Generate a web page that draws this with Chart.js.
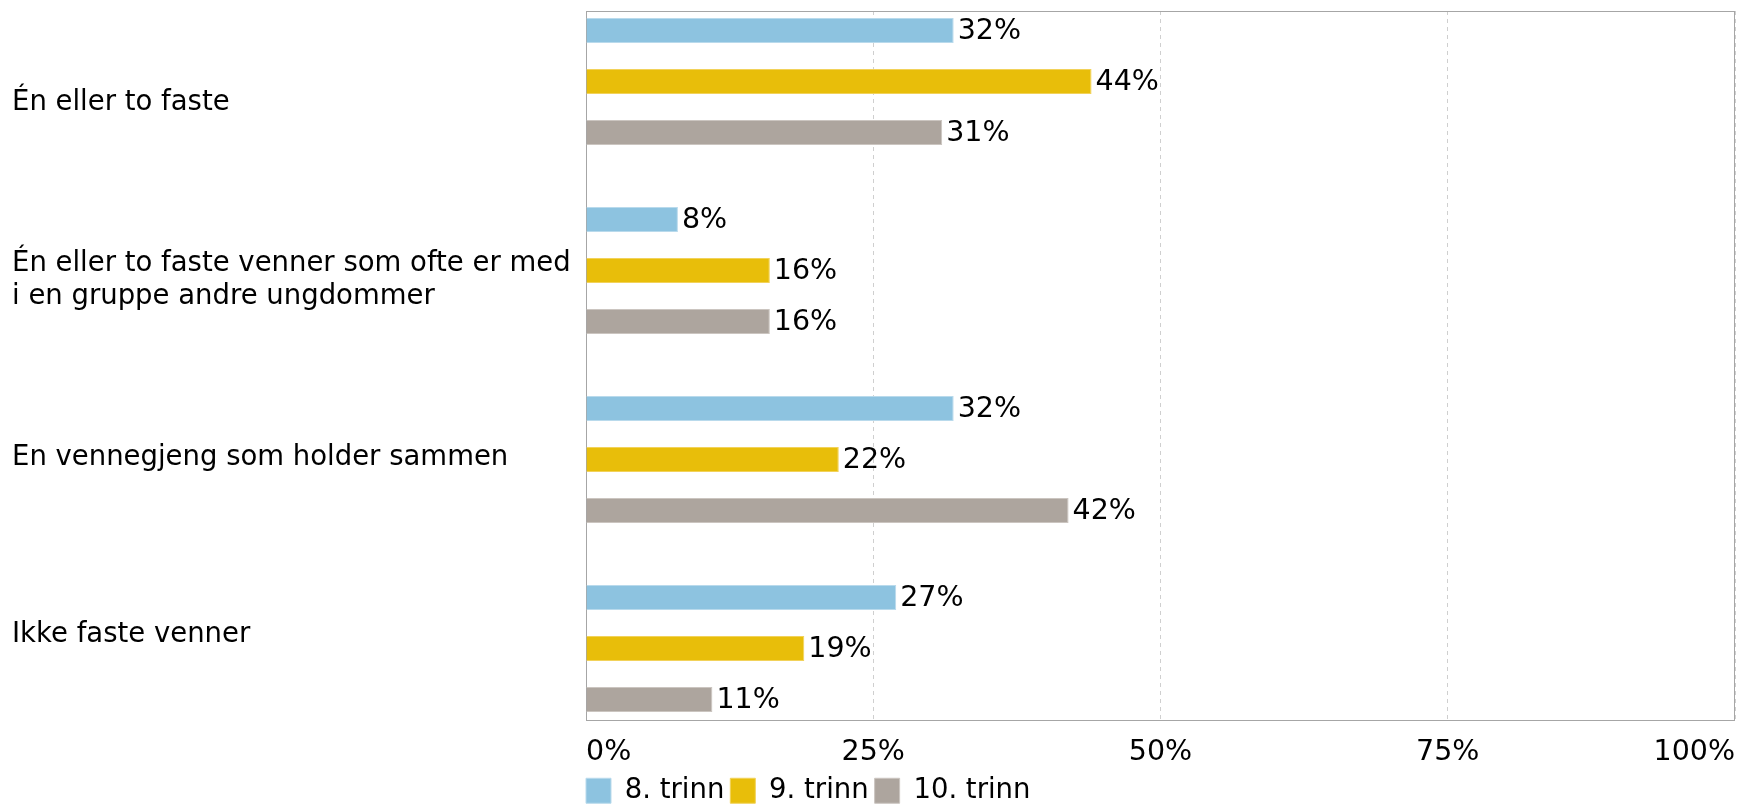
<!DOCTYPE html>
<html>
<head>
<meta charset="utf-8">
<script src="https://cdn.jsdelivr.net/npm/chart.js@4.4.1/dist/chart.umd.min.js"></script>
<style>
    html, body { margin: 0; padding: 0; background: #fff; overflow: hidden; }
    #wrap { width: 1738px; height: 805px; }
</style>
</head>
<body>
<div id="wrap"><canvas id="friendsChart"></canvas></div>
<script>
const categories = [
    'Én eller to faste',
    ['Én eller to faste venner som ofte er med', 'i en gruppe andre ungdommer'],
    'En vennegjeng som holder sammen',
    'Ikke faste venner'
];
const seriesNames = ['8. trinn', '9. trinn', '10. trinn'];
const trinn8 = [32, 8, 32, 27];
const trinn9 = [44, 16, 22, 19];
const trinn10 = [31, 16, 42, 11];
const xTicks = [0, 25, 50, 75, 100];

const colors = ['#8DC3E0', '#E8BE0A', '#ADA59E'];
const edgeColors = ['#B9DAEC', '#F2D25A', '#CBC5C0'];
const fontFamily = "'DejaVu Sans', Verdana, sans-serif";
const fontSize = 27.5;
const numberSize = 28.5;

// bars sit on a numeric index axis (0..3) so groups can be spaced a bit wider than the label bands
const toPoints = arr => arr.map((v, i) => ({ x: v, y: i }));
const categoryTicks = scale => { scale.ticks = categories.map((c, i) => ({ value: i })); };

// value labels at the end of each bar
const valueLabels = {
    id: 'valueLabels',
    afterDatasetsDraw(chart) {
        const ctx = chart.ctx;
        ctx.save();
        ctx.font = numberSize + 'px ' + fontFamily;
        ctx.fillStyle = '#000';
        ctx.textAlign = 'left';
        ctx.textBaseline = 'middle';
        chart.data.datasets.forEach((ds, i) => {
            chart.getDatasetMeta(i).data.forEach((bar, j) => {
                ctx.fillText(ds.data[j].x + '%', bar.x + 4, bar.y + 1);
            });
        });
        ctx.restore();
    }
};

// solid frame around the plot, legend pulled to the plot's left edge
const plotFrame = {
    id: 'plotFrame',
    beforeDraw(chart) {
        const lg = chart.legend;
        const pad = chart.options.plugins.legend.labels.padding;
        const w = lg.right - lg.left;
        lg.left = chart.chartArea.left - pad;
        lg.right = lg.left + w;
    },
    beforeDatasetsDraw(chart) {
        const a = chart.chartArea;
        const ctx = chart.ctx;
        ctx.save();
        ctx.strokeStyle = '#A6A6A6';
        ctx.lineWidth = 1;
        ctx.strokeRect(Math.round(a.left) + 0.5, Math.round(a.top) + 0.5,
            Math.round(a.right - a.left) - 1, Math.round(a.bottom - a.top));
        ctx.restore();
    }
};

const noPadding = scale => {
    scale.paddingTop = 0;
    scale.paddingBottom = 0;
    scale.paddingLeft = 0;
    scale.paddingRight = 0;
};

const ctx = document.getElementById('friendsChart').getContext('2d');
new Chart(ctx, {
    type: 'bar',
    data: {
        labels: categories,
        datasets: [
            { label: seriesNames[0], data: toPoints(trinn8), backgroundColor: colors[0], borderColor: edgeColors[0] },
            { label: seriesNames[1], data: toPoints(trinn9), backgroundColor: colors[1], borderColor: edgeColors[1] },
            { label: seriesNames[2], data: toPoints(trinn10), backgroundColor: colors[2], borderColor: edgeColors[2] }
        ]
    },
    options: {
        indexAxis: 'y',
        responsive: true,
        maintainAspectRatio: false,
        animation: false,
        layout: { padding: { left: 12, top: 11, right: 3, bottom: -9.5 } },
        datasets: { bar: { categoryPercentage: 0.81, barPercentage: 0.49, borderWidth: 1 } },
        scales: {
            x: {
                min: 0,
                max: 100,
                afterBuildTicks: scale => { scale.ticks = xTicks.map(v => ({ value: v })); },
                afterFit: scale => { noPadding(scale); scale.height = 51; },
                grid: { color: '#CFCFCF', drawTicks: false, tickLength: 0 },
                border: { display: false, dash: [4, 4] },
                ticks: {
                    align: 'inner',
                    padding: 15,
                    color: '#000',
                    font: { size: numberSize, family: fontFamily },
                    callback: v => v + '%'
                }
            },
            y: {
                type: 'linear',
                display: false,
                reverse: true,
                offset: false,
                bounds: 'data',
                min: -0.373,
                max: 3.378,
                afterBuildTicks: categoryTicks
            },
            yLabels: {
                type: 'linear',
                position: 'left',
                reverse: true,
                offset: false,
                bounds: 'data',
                min: -0.52,
                max: 3.48,
                afterBuildTicks: categoryTicks,
                grid: { display: false, drawTicks: false },
                border: { display: false },
                afterFit: scale => { noPadding(scale); scale.width = 574; },
                ticks: {
                    crossAlign: 'far',
                    padding: 0,
                    color: '#000',
                    font: { size: fontSize, family: fontFamily, lineHeight: 1.2 },
                    callback: v => categories[v]
                }
            }
        },
        plugins: {
            tooltip: { enabled: false },
            legend: {
                position: 'bottom',
                align: 'start',
                fullSize: false,
                labels: {
                    boxWidth: 25,
                    boxHeight: 25,
                    padding: 6,
                    color: '#000',
                    font: { size: fontSize, family: fontFamily }
                }
            }
        }
    },
    plugins: [valueLabels, plotFrame]
});
</script>
</body>
</html>
